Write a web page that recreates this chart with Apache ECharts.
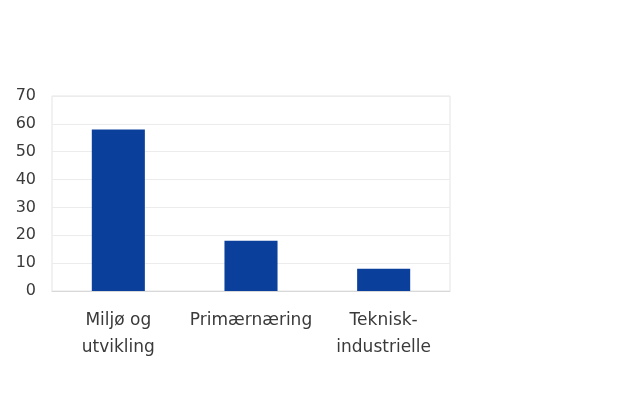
<!DOCTYPE html>
<html><head><meta charset="utf-8">
<script src="https://cdn.jsdelivr.net/npm/echarts@6/dist/echarts.min.js"></script>
<style>html,body{margin:0;padding:0;background:#fff}#c{width:617px;height:399px}</style>
</head><body><div id="c"></div>
<script>
const categories = ["Miljø og\nutvikling", "Primærnæring", "Teknisk-\nindustrielle"];
const values = [58, 18, 8];
const yTicks = [0, 10, 20, 30, 40, 50, 60, 70];

const chart = echarts.init(document.getElementById('c'), null, {renderer: 'canvas'});
chart.setOption({
  animation: false,
  backgroundColor: '#fff',
  grid: {left: 52, right: 167, top: 96, bottom: 108, show: true, borderColor: '#e4e4e4', borderWidth: 1},
  xAxis: {
    type: 'category', data: categories,
    axisLine: {lineStyle: {color: '#d8d8d8'}},
    axisTick: {show: false},
    axisLabel: {color: '#3a3a3a', fontFamily: 'DejaVu Sans', fontSize: 17, lineHeight: 27, margin: 16, interval: 0}
  },
  yAxis: {
    type: 'value', min: yTicks[0], max: yTicks[yTicks.length-1], interval: 10,
    axisLine: {show: false}, axisTick: {show: false},
    splitLine: {lineStyle: {color: '#ececec'}},
    axisLabel: {color: '#3a3a3a', fontFamily: 'DejaVu Sans', fontSize: 16, margin: 16}
  },
  series: [{type: 'bar', data: values, barWidth: '40%', itemStyle: {color: '#0b3f9c'}}]
});
</script></body></html>
